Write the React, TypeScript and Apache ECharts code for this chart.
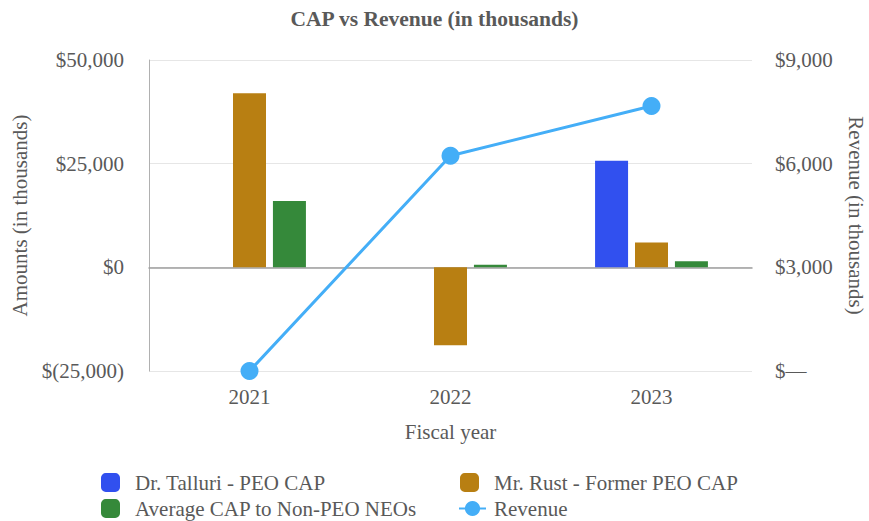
import React, { useEffect, useRef } from "react";
import * as echarts from "echarts";

const categories = ["2021", "2022", "2023"];
const talluriCap = [null, null, 25700];
const rustCap = [42000, -18800, 6000];
const avgNonPeoCap = [16000, 650, 1450];
const revenue = [0, 6230, 7670];

const FONT = "'Liberation Serif', 'Times New Roman', serif";
const TXT = "#595959";
const FS = 21;

function fmtLeft(v: number): string {
  const a = Math.abs(v).toLocaleString("en-US");
  return v < 0 ? `$(${a})` : `$${a}`;
}
function fmtRight(v: number): string {
  return v === 0 ? "$\u2014" : `$${v.toLocaleString("en-US")}`;
}

export default function App() {
  const ref = useRef<HTMLDivElement>(null);
  useEffect(() => {
    if (!ref.current) return;
    const chart = echarts.init(ref.current, undefined, { renderer: "svg" });
    const mkLegend = (name: string, left: number, top: number, w = 19, pad = 10) => ({
      data: [name],
      left,
      top,
      itemWidth: w,
      itemHeight: 19,
      textStyle: { fontFamily: FONT, fontSize: FS, color: TXT, padding: [0, 0, 0, pad] },
    });
    chart.setOption({
      animation: false,
      backgroundColor: "#ffffff",
      textStyle: { fontFamily: FONT, color: TXT },
      title: {
        text: "CAP vs Revenue (in thousands)",
        left: "center",
        top: 3,
        textStyle: { fontFamily: FONT, fontSize: 21.5, fontWeight: "bold", color: TXT },
      },
      legend: [
        mkLegend("Dr. Talluri - PEO CAP", 96, 467),
        mkLegend("Average CAP to Non-PEO NEOs", 96, 493),
        mkLegend("Mr. Rust - Former PEO CAP", 455, 467),
        mkLegend("Revenue", 453, 493, 27, 3),
      ],
      grid: { left: 149, right: 117, top: 60, bottom: 150, containLabel: false, outerBoundsMode: "none" },
      xAxis: {
        type: "category",
        data: categories,
        name: "Fiscal year",
        nameLocation: "middle",
        nameGap: 50,
        nameTextStyle: { fontFamily: FONT, fontSize: FS, color: TXT },
        axisLine: { lineStyle: { color: "#9e9e9e", width: 1.5 } },
        axisTick: { show: false },
        axisLabel: { fontFamily: FONT, fontSize: FS, color: TXT, margin: 15 },
      },
      yAxis: [
        {
          type: "value",
          min: -25000,
          max: 50000,
          interval: 25000,
          name: "Amounts (in thousands)",
          nameLocation: "middle",
          nameGap: 118,
          nameRotate: 90,
          nameTextStyle: { fontFamily: FONT, fontSize: FS, color: TXT },
          axisLine: { show: true, lineStyle: { color: "#b0b0b0", width: 1 } },
          axisTick: { show: false },
          axisLabel: { fontFamily: FONT, fontSize: FS, color: TXT, margin: 25, formatter: fmtLeft },
          splitLine: { lineStyle: { color: "#e6e6e6", width: 1 } },
        },
        {
          type: "value",
          min: 0,
          max: 9000,
          interval: 3000,
          position: "right",
          name: "Revenue (in thousands)",
          nameLocation: "middle",
          nameGap: 93,
          nameRotate: -90,
          nameTextStyle: { fontFamily: FONT, fontSize: FS, color: TXT },
          axisLine: { show: false },
          axisTick: { show: false },
          axisLabel: { fontFamily: FONT, fontSize: FS, color: TXT, margin: 23, formatter: fmtRight },
          splitLine: { show: false },
        },
      ],
      series: [
        {
          name: "Dr. Talluri - PEO CAP",
          type: "bar",
          data: talluriCap,
          barWidth: 33,
          barGap: "21%",
          itemStyle: { color: "#3150ef" },
        },
        {
          name: "Mr. Rust - Former PEO CAP",
          type: "bar",
          data: rustCap,
          barWidth: 33,
          barGap: "21%",
          itemStyle: { color: "#b87f12" },
        },
        {
          name: "Average CAP to Non-PEO NEOs",
          type: "bar",
          data: avgNonPeoCap,
          barWidth: 33,
          barGap: "21%",
          itemStyle: { color: "#35893a" },
        },
        {
          name: "Revenue",
          type: "line",
          yAxisIndex: 1,
          data: revenue,
          symbol: "circle",
          symbolSize: 18,
          lineStyle: { color: "#44aef7", width: 3 },
          itemStyle: { color: "#44aef7" },
        },
      ],
    });
    return () => chart.dispose();
  }, []);
  return (
    <div
      ref={ref}
      style={{ position: "absolute", left: 0, top: 0, width: 869, height: 521 }}
    />
  );
}
